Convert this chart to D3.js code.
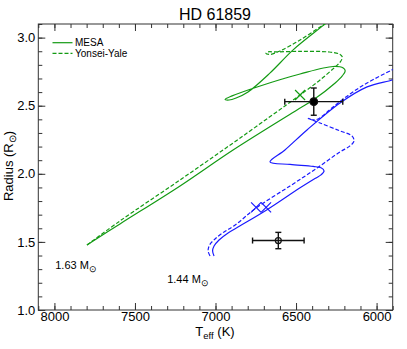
<!DOCTYPE html>
<html>
<head>
<meta charset="utf-8">
<script src="https://cdn.jsdelivr.net/npm/d3@7"></script>
<style>
  body { margin: 0; background: #fff; }
  text { font-family: "Liberation Sans", Arial, Helvetica, sans-serif; fill: #000; }
</style>
</head>
<body>
<script>
// HD 61859 - radius vs Teff with MESA / Yonsei-Yale tracks

// ---------------- data (Teff [K], Radius [Rsun]) ----------------
var mesa163 = [[7798,1.477],[7593,1.632],[7220,1.911],[6891,2.175],[6494,2.469],[6394,2.542],
  [6257,2.667],[6213,2.719],[6195,2.756],[6207,2.777],[6270,2.788],[6475,2.733],[6723,2.645],
  [6897,2.572],[6941,2.546],[6916,2.542],[6872,2.557],[6798,2.601],[6661,2.741],[6518,2.910],
  [6319,3.101],[6275,3.145]];
var yy163 = [[7798,1.477],[7593,1.654],[7220,1.955],[6847,2.263],[6475,2.579],[6351,2.689],
  [6257,2.785],[6225,2.822],[6213,2.858],[6232,2.880],[6301,2.895],[6475,2.899],[6630,2.895],
  [6674,2.895],[6687,2.884],[6661,2.877],[6599,2.902],[6475,2.983],[6332,3.093],[6270,3.145]];
var mesa144 = [[7009,1.397],[7018,1.433],[7009,1.470],[6978,1.514],[6922,1.566],[6847,1.618],
  [6680,1.736],[6475,1.897],[6376,1.970],[6345,1.992],[6326,2.021],[6345,2.044],[6394,2.054],
  [6537,2.069],[6662,2.087],[6569,2.175],[6432,2.322],[6227,2.520],[6059,2.638],[5904,2.689],
  [5854,2.711]];
var yy144 = [[7034,1.397],[7046,1.433],[7037,1.477],[7003,1.521],[6947,1.573],[6878,1.624],
  [6748,1.749],[6537,1.911],[6369,2.043],[6227,2.161],[6165,2.205],[6140,2.241],[6153,2.278],
  [6227,2.315],[6351,2.373],[6425,2.407],[6400,2.396],[6363,2.403],[6270,2.491],[6165,2.586],
  [6059,2.667],[5904,2.763],[5854,2.792]];

// best-fit age positions on the tracks
var greenX = [[6475,2.579]];
var blueX = [[6748,1.753],[6686,1.753]];

// observed stars: Teff, errT, R, errR, filled
var obs = [
  {t:6390, et:180, r:2.53, er:0.10, filled:true},
  {t:6610, et:160, r:1.51, er:0.06, filled:false}
];

var massLabels = [
  {t:7995, r:1.30, text:'1.63 M'},
  {t:7300, r:1.20, text:'1.44 M'}
];

var xMajor = [8000,7500,7000,6500,6000];
var yMajor = [1.0,1.5,2.0,2.5,3.0];

// ---------------- layout ----------------
var W = 407, H = 349;
var plot = {left:38.3, right:392.7, top:24, bottom:310};
var green = '#139a13', blue = '#1a1aff';

var svg = d3.select('body').append('svg').attr('width',W).attr('height',H);

var x = d3.scaleLinear().domain([8100,5900]).range([plot.left, plot.right]);
var y = d3.scaleLinear().domain([1.0,3.1]).range([plot.bottom, plot.top]);

svg.append('clipPath').attr('id','clip').append('rect')
  .attr('x',plot.left).attr('y',plot.top)
  .attr('width',plot.right-plot.left).attr('height',plot.bottom-plot.top);

// ---------------- axes / ticks ----------------
function tickAxis(axis, tr, vals, size, labels){
  var a = axis.tickValues(vals).tickSizeInner(-size).tickSizeOuter(0);
  if(!labels) a.tickFormat('');
  var g = svg.append('g').attr('transform',tr).call(a);
  g.select('.domain').remove();
  g.selectAll('.tick line').attr('stroke','#333').attr('stroke-width',1);
  return g;
}
var xMinor = d3.range(5900,8101,100), yMinor = d3.range(10,32,1).map(d=>d/10);

var bx = tickAxis(d3.axisBottom(x).tickPadding(2).tickFormat(d3.format('d')), 'translate(0,'+plot.bottom+')', xMajor, 7, true);
tickAxis(d3.axisBottom(x), 'translate(0,'+plot.bottom+')', xMinor, 4, false);
tickAxis(d3.axisTop(x), 'translate(0,'+plot.top+')', xMajor, 7, false);
tickAxis(d3.axisTop(x), 'translate(0,'+plot.top+')', xMinor, 4, false);
var ly = tickAxis(d3.axisLeft(y).tickPadding(3).tickFormat(d3.format('.1f')), 'translate('+plot.left+',0)', yMajor, 7, true);
tickAxis(d3.axisLeft(y), 'translate('+plot.left+',0)', yMinor, 4, false);
tickAxis(d3.axisRight(y), 'translate('+plot.right+',0)', yMajor, 7, false);
tickAxis(d3.axisRight(y), 'translate('+plot.right+',0)', yMinor, 4, false);

bx.selectAll('text').attr('font-size',13).attr('font-family','"Liberation Sans", Arial, sans-serif').attr('fill','#000');
ly.selectAll('text').attr('font-size',13).attr('font-family','"Liberation Sans", Arial, sans-serif').attr('fill','#000');

svg.append('rect').attr('x',plot.left).attr('y',plot.top)
  .attr('width',plot.right-plot.left).attr('height',plot.bottom-plot.top)
  .attr('fill','none').attr('stroke','#333').attr('stroke-width',1);

// ---------------- tracks ----------------
var line = d3.line().x(d=>x(d[0])).y(d=>y(d[1])).curve(d3.curveCatmullRom.alpha(0.5));
var tracks = svg.append('g').attr('clip-path','url(#clip)');

function track(data, color, dashed){
  tracks.append('path').attr('d', line(data))
    .attr('fill','none').attr('stroke',color).attr('stroke-width',1.2)
    .attr('stroke-dasharray', dashed ? '4,2' : null);
}
track(mesa163, green, false);
track(yy163, green, true);
track(mesa144, blue, false);
track(yy144, blue, true);

function crosses(data, color){
  data.forEach(function(d){
    var cx = x(d[0]), cy = y(d[1]), s = 5;
    tracks.append('path')
      .attr('d','M'+(cx-s)+','+(cy-s)+'L'+(cx+s)+','+(cy+s)+'M'+(cx-s)+','+(cy+s)+'L'+(cx+s)+','+(cy-s))
      .attr('stroke',color).attr('stroke-width',1.2).attr('fill','none');
  });
}
crosses(greenX, green);
crosses(blueX, blue);

// ---------------- observations ----------------
var cap = 3;
obs.forEach(function(o){
  var g = svg.append('g').attr('stroke','#111').attr('stroke-width',1.4).attr('fill','none');
  var x0 = x(o.t + o.et), x1 = x(o.t - o.et), cy = y(o.r);
  var y0 = y(o.r + o.er), y1 = y(o.r - o.er), cx = x(o.t);
  g.append('line').attr('x1',x0).attr('x2',x1).attr('y1',cy).attr('y2',cy);
  g.append('line').attr('x1',x0).attr('x2',x0).attr('y1',cy-cap).attr('y2',cy+cap);
  g.append('line').attr('x1',x1).attr('x2',x1).attr('y1',cy-cap).attr('y2',cy+cap);
  g.append('line').attr('x1',cx).attr('x2',cx).attr('y1',y0).attr('y2',y1);
  g.append('line').attr('x1',cx-cap).attr('x2',cx+cap).attr('y1',y0).attr('y2',y0);
  g.append('line').attr('x1',cx-cap).attr('x2',cx+cap).attr('y1',y1).attr('y2',y1);
  g.append('circle').attr('cx',cx).attr('cy',cy).attr('r', o.filled ? 3.8 : 3)
    .attr('fill', o.filled ? '#000' : 'none').attr('stroke','#111').attr('stroke-width',1.2);
});

// ---------------- text ----------------
massLabels.forEach(function(m){
  var t = svg.append('text').attr('x',x(m.t)).attr('y',y(m.r)).attr('font-size',11).text(m.text);
  t.append('tspan').attr('dy',3).attr('font-size',9).text('\u2299');
});

svg.append('text').attr('x',215).attr('y',20).attr('text-anchor','middle')
  .attr('font-size',16).text('HD 61859');

var xt = svg.append('text').attr('x',215).attr('y',336).attr('text-anchor','middle').attr('font-size',13);
xt.append('tspan').text('T');
xt.append('tspan').attr('font-size',9.5).attr('dy',3).text('eff');
xt.append('tspan').attr('dy',-3).text(' (K)');

var yt = svg.append('text').attr('transform','translate(12.5,166) rotate(-90)')
  .attr('text-anchor','middle').attr('font-size',13);
yt.append('tspan').text('Radius (R');
yt.append('tspan').attr('font-size',9.5).attr('dy',3).text('\u2299');
yt.append('tspan').attr('dy',-3).text(')');

// legend
var leg = [{name:'MESA', dash:null, y:42.7},{name:'Yonsei-Yale', dash:'4,2', y:53.3}];
leg.forEach(function(l){
  svg.append('line').attr('x1',52.5).attr('x2',72.5).attr('y1',l.y).attr('y2',l.y)
    .attr('stroke',green).attr('stroke-width',1.2).attr('stroke-dasharray',l.dash);
  svg.append('text').attr('x',75).attr('y',l.y+3.6).attr('font-size',10).text(l.name);
});
</script>
</body>
</html>
